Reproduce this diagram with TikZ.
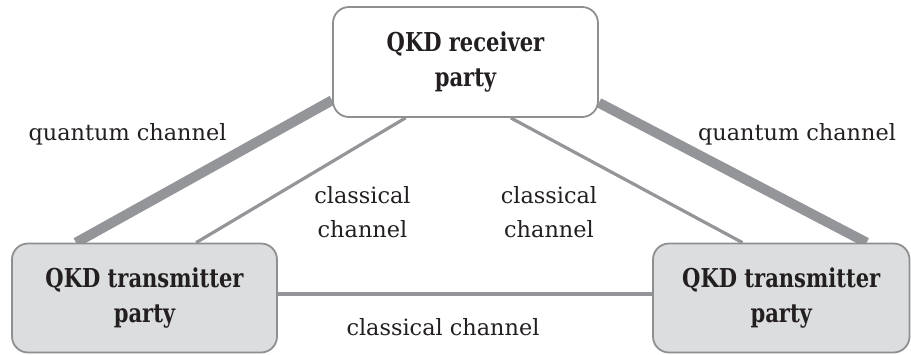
\documentclass[tikz,border=0pt]{standalone}
\usepackage{fontspec}
\setmainfont{DejaVu Serif}
\newfontfamily\partyfont[FakeStretch=0.81]{DejaVu Serif}
\usetikzlibrary{backgrounds}
\definecolor{linegray}{HTML}{939598}
\definecolor{boxborder}{HTML}{8E8F91}
\definecolor{boxfill}{HTML}{DCDDDF}
\definecolor{txt}{HTML}{231F20}
\begin{document}
\begin{tikzpicture}[x=1pt,y=-1pt,
  party/.style={draw=boxborder, line width=1.8pt, rounded corners=16pt, inner sep=0pt,
    align=center, font=\partyfont\bfseries\fontsize{26}{35}\selectfont, text=txt},
  quantum/.style={draw=linegray, line width=10pt},
  classical/.style={draw=linegray, line width=3.2pt},
  lbl/.style={font=\fontsize{22.4}{34}\selectfont, text=txt, inner sep=0pt, align=center}]
\useasboundingbox (0,0) rectangle (911,354);
\node[party, fill=white, minimum width=265pt, minimum height=110pt] (rx) at (465.5,62) {QKD receiver\\party};
\node[party, fill=boxfill, minimum width=265pt, minimum height=109pt] (txl) at (144.5,298) {QKD transmitter\\party};
\node[party, fill=boxfill, minimum width=256.5pt, minimum height=109pt] (txr) at (781.25,298) {QKD transmitter\\party};
\path (txl.east) ++(0,-4) coordinate (h1);
\begin{scope}[on background layer]
  \draw[quantum] (rx.196) -- (txl.141.6);
  \draw[quantum] (rx.343) -- (txr.33.9);
  \draw[classical] (rx.223.7) -- (txl.47.4);
  \draw[classical] (rx.309) -- (txr.125.5);
  \draw[classical] (h1) -- (h1 -| txr.west);
\end{scope}
\node[lbl, anchor=base] (lq) at (127.5,140) {quantum channel};
\node[lbl, anchor=base] (rq) at (797,140) {quantum channel};
\node[lbl, anchor=base] (lc) at (362.5,237) {classical\\channel};
\node[lbl, anchor=base] (rc) at (549,237) {classical\\channel};
\node[lbl, anchor=base] (bc) at (443,335) {classical channel};
\end{tikzpicture}
\end{document}
